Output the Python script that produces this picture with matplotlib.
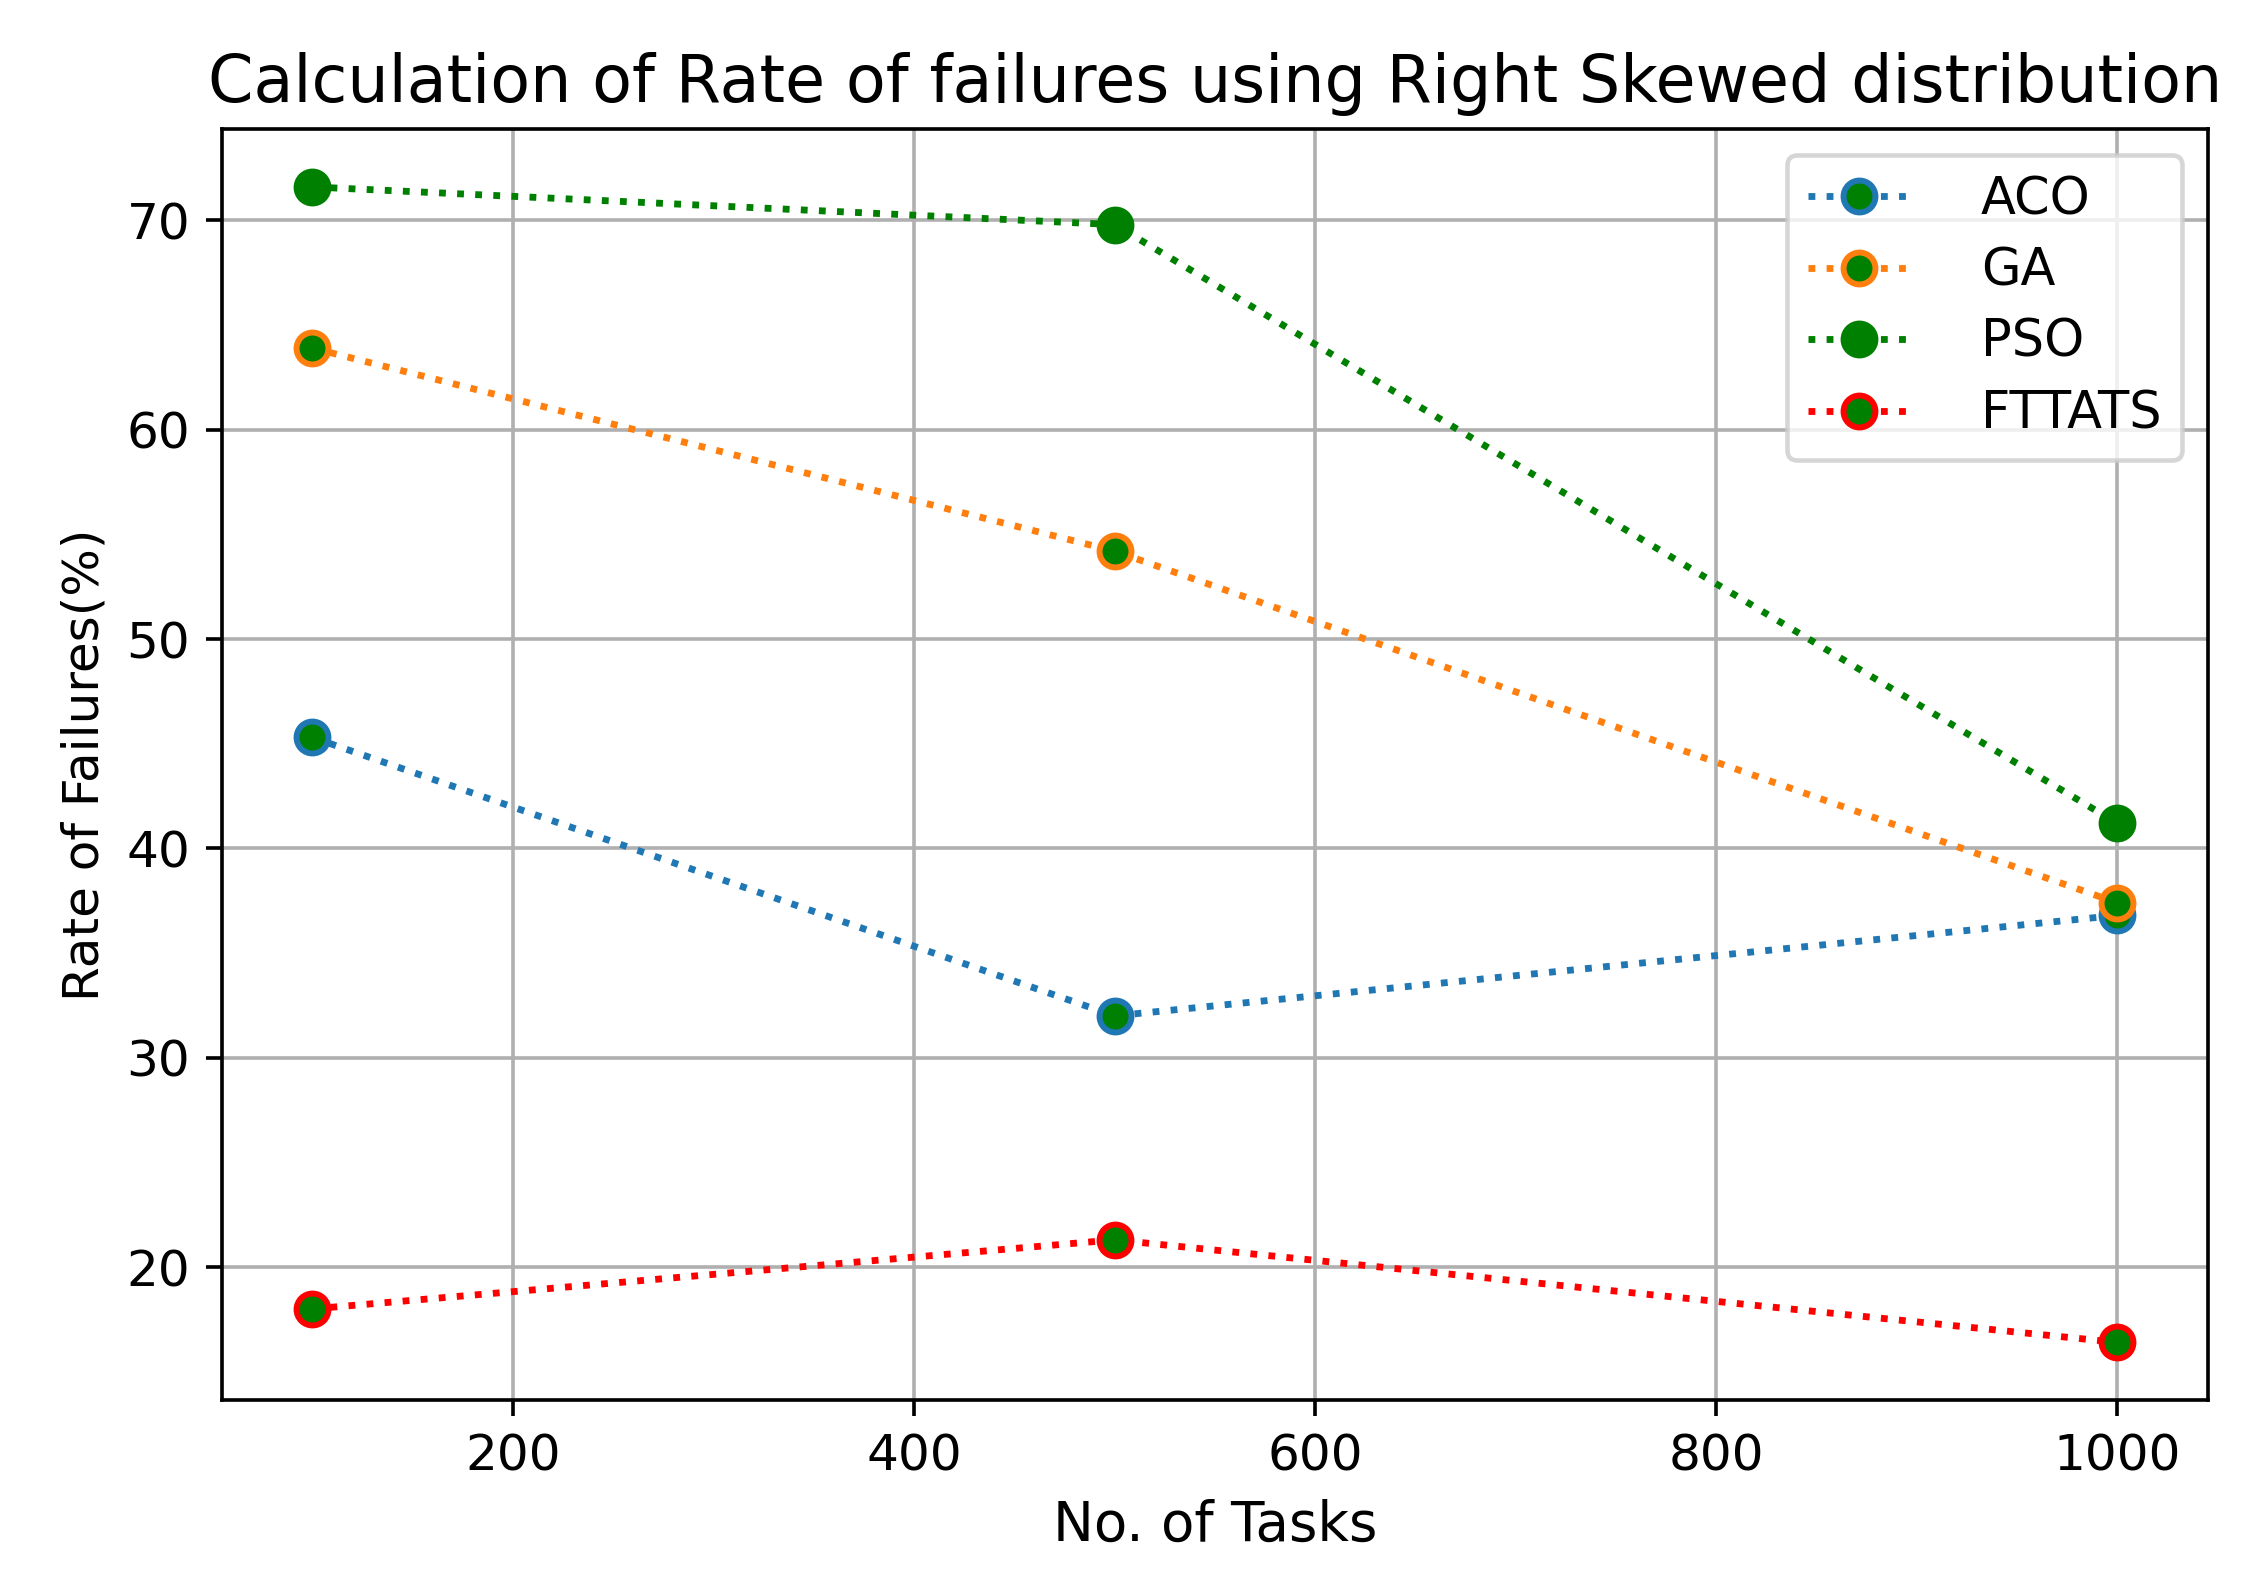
import matplotlib
matplotlib.use("Agg")
import matplotlib.pyplot as plt

tasks = [100, 500, 1000]
aco = [45.3, 32.0, 36.8]
ga = [63.9, 54.2, 37.4]
pso = [71.6, 69.8, 41.2]
fttats = [18.0, 21.3, 16.4]

series = [("ACO", aco, "tab:blue"), ("GA", ga, "tab:orange"),
          ("PSO", pso, "green"), ("FTTATS", fttats, "red")]

dpi = 328
fig = plt.figure(figsize=(2251 / dpi, 1575 / dpi), dpi=dpi)
ax = fig.add_axes([0.0987, 0.111, 0.882, 0.807])

for name, vals, col in series:
    ax.plot(tasks, vals, linestyle=":", color=col, marker="o",
            markerfacecolor="green", markeredgecolor=col,
            markersize=7, markeredgewidth=1.3, label=name)

ax.grid(True)
ax.tick_params(labelsize=11)
ax.set_title("Calculation of Rate of failures using Right Skewed distribution",
             fontsize=14.3)
ax.set_xlabel("No. of Tasks", fontsize=12)
ax.set_ylabel("Rate of Failures(%)", fontsize=11)
ax.legend(loc="upper right", handletextpad=1.4, fontsize=11.2, labelspacing=0.42)

fig.savefig("out.png", dpi=dpi)
